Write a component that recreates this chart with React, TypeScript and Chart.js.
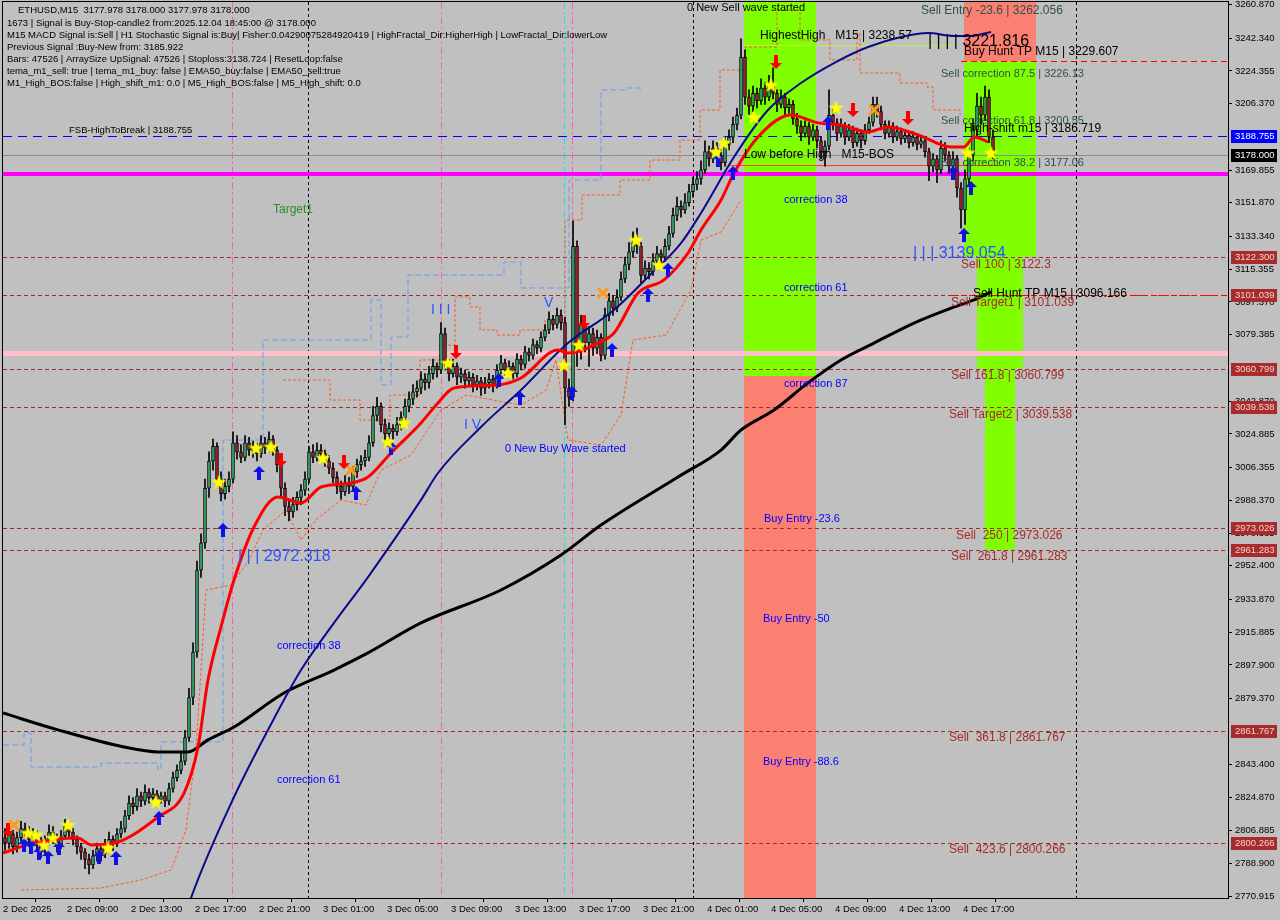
import React, { useEffect, useRef } from "react";
import { Chart, registerables } from "chart.js";
Chart.register(...registerables);

// ---------- axis labels ----------
const xTickLabels = ["2 Dec 2025", "2 Dec 09:00", "2 Dec 13:00", "2 Dec 17:00", "2 Dec 21:00", "3 Dec 01:00", "3 Dec 05:00", "3 Dec 09:00", "3 Dec 13:00", "3 Dec 17:00", "3 Dec 21:00", "4 Dec 01:00", "4 Dec 05:00", "4 Dec 09:00", "4 Dec 13:00", "4 Dec 17:00"];
const yTickValues = [3260.87, 3242.34, 3224.355, 3206.37, 3169.855, 3151.87, 3133.34, 3115.355, 3097.37, 3079.385, 3042.87, 3024.885, 3006.355, 2988.37, 2970.385, 2952.4, 2933.87, 2915.885, 2897.9, 2879.37, 2843.4, 2824.87, 2806.885, 2788.9, 2770.915];

// ---------- candles: open, high, low, close (ETHUSD M15) ----------
const candles: [number, number, number, number][] = [
  [2803, 2808, 2796, 2800], [2800, 2809, 2797, 2805], [2805, 2807, 2794, 2798], [2798, 2806, 2795, 2803], [2803, 2812, 2801, 2808],
  [2808, 2811, 2803, 2806], [2806, 2809, 2798, 2802], [2802, 2808, 2799, 2805], [2805, 2807, 2796, 2800], [2800, 2803, 2792, 2797],
  [2797, 2804, 2794, 2801], [2801, 2810, 2799, 2806], [2806, 2809, 2800, 2803], [2803, 2805, 2795, 2799], [2799, 2807, 2797, 2804],
  [2804, 2813, 2802, 2809], [2809, 2811, 2803, 2806], [2806, 2808, 2799, 2802], [2802, 2804, 2794, 2798], [2798, 2800, 2791, 2795],
  [2795, 2797, 2786, 2791], [2791, 2794, 2783, 2788], [2788, 2796, 2786, 2793], [2793, 2800, 2790, 2797], [2797, 2799, 2790, 2794],
  [2794, 2802, 2792, 2799], [2799, 2806, 2796, 2802], [2802, 2804, 2796, 2800], [2800, 2808, 2798, 2805], [2805, 2812, 2803, 2808],
  [2808, 2818, 2806, 2815], [2815, 2826, 2813, 2822], [2822, 2825, 2816, 2820], [2820, 2830, 2818, 2826], [2826, 2828, 2820, 2823],
  [2823, 2832, 2821, 2828], [2828, 2830, 2822, 2825], [2825, 2830, 2823, 2827], [2827, 2829, 2821, 2824], [2824, 2828, 2822, 2826],
  [2826, 2828, 2820, 2823], [2823, 2833, 2821, 2830], [2830, 2839, 2828, 2836], [2836, 2843, 2834, 2840], [2840, 2850, 2838, 2845],
  [2845, 2862, 2843, 2858], [2858, 2885, 2856, 2880], [2880, 2910, 2876, 2905], [2905, 2955, 2902, 2950], [2950, 2970, 2946, 2965],
  [2965, 3000, 2962, 2995], [2995, 3015, 2990, 3010], [3010, 3022, 3005, 3018], [3018, 3020, 2996, 3000], [3000, 3004, 2988, 2992],
  [2992, 3000, 2989, 2996], [2996, 3004, 2993, 3000], [3000, 3026, 2998, 3020], [3020, 3024, 3011, 3015], [3015, 3019, 3009, 3012],
  [3012, 3024, 3010, 3020], [3020, 3023, 3013, 3016], [3016, 3021, 3012, 3018], [3018, 3020, 3010, 3014], [3014, 3024, 3012, 3020],
  [3020, 3023, 3014, 3017], [3017, 3026, 3015, 3022], [3022, 3024, 3013, 3016], [3016, 3018, 3004, 3008], [3008, 3010, 2990, 2995],
  [2995, 2998, 2980, 2985], [2985, 2988, 2977, 2982], [2982, 2990, 2979, 2986], [2986, 2993, 2983, 2990], [2990, 2997, 2986, 2994],
  [2994, 3004, 2991, 3000], [3000, 3018, 2998, 3015], [3015, 3019, 3009, 3012], [3012, 3020, 3010, 3016], [3016, 3019, 3011, 3014],
  [3014, 3016, 3007, 3010], [3010, 3013, 3003, 3006], [3006, 3009, 2998, 3001], [3001, 3004, 2992, 2996], [2996, 2999, 2989, 2993],
  [2993, 3002, 2991, 2998], [2998, 3001, 2992, 2996], [2996, 3007, 2994, 3004], [3004, 3011, 3001, 3008], [3008, 3013, 3005, 3010],
  [3010, 3016, 3007, 3012], [3012, 3024, 3010, 3020], [3020, 3040, 3018, 3035], [3035, 3045, 3032, 3040], [3040, 3042, 3026, 3030],
  [3030, 3033, 3021, 3025], [3025, 3031, 3022, 3028], [3028, 3030, 3022, 3026], [3026, 3034, 3024, 3030], [3030, 3037, 3027, 3034],
  [3034, 3044, 3032, 3040], [3040, 3048, 3037, 3044], [3044, 3052, 3041, 3048], [3048, 3054, 3045, 3050], [3050, 3059, 3047, 3055],
  [3055, 3058, 3049, 3053], [3053, 3062, 3050, 3058], [3058, 3066, 3055, 3062], [3062, 3064, 3056, 3060], [3060, 3086, 3058, 3080],
  [3080, 3083, 3060, 3064], [3064, 3066, 3054, 3058], [3058, 3066, 3056, 3062], [3062, 3064, 3052, 3056], [3056, 3061, 3053, 3058],
  [3058, 3060, 3050, 3054], [3054, 3059, 3051, 3056], [3056, 3058, 3048, 3052], [3052, 3057, 3049, 3054], [3054, 3056, 3046, 3050],
  [3050, 3056, 3047, 3053], [3053, 3058, 3050, 3055], [3055, 3057, 3048, 3052], [3052, 3063, 3050, 3060], [3060, 3068, 3058, 3064],
  [3064, 3066, 3057, 3060], [3060, 3065, 3057, 3062], [3062, 3064, 3055, 3058], [3058, 3069, 3056, 3066], [3066, 3068, 3060, 3063],
  [3063, 3073, 3061, 3070], [3070, 3072, 3065, 3068], [3068, 3077, 3066, 3074], [3074, 3076, 3069, 3072], [3072, 3081, 3070, 3078],
  [3078, 3085, 3076, 3082], [3082, 3092, 3080, 3088], [3088, 3090, 3082, 3085], [3085, 3094, 3083, 3090], [3090, 3093, 3082, 3086],
  [3086, 3089, 3030, 3050], [3050, 3055, 3040, 3045], [3045, 3142, 3043, 3128], [3128, 3131, 3062, 3070], [3070, 3090, 3066, 3085],
  [3085, 3088, 3070, 3075], [3075, 3084, 3062, 3080], [3080, 3083, 3068, 3072], [3072, 3082, 3069, 3078], [3078, 3080, 3065, 3068],
  [3068, 3094, 3066, 3090], [3090, 3102, 3087, 3098], [3098, 3101, 3090, 3094], [3094, 3104, 3092, 3100], [3100, 3114, 3098, 3110],
  [3110, 3122, 3108, 3118], [3118, 3130, 3115, 3125], [3125, 3136, 3122, 3130], [3130, 3138, 3124, 3128], [3128, 3130, 3108, 3112],
  [3112, 3120, 3110, 3116], [3116, 3119, 3110, 3114], [3114, 3124, 3112, 3120], [3120, 3128, 3118, 3124], [3124, 3126, 3118, 3122],
  [3122, 3132, 3120, 3128], [3128, 3139, 3126, 3135], [3135, 3149, 3133, 3145], [3145, 3155, 3142, 3150], [3150, 3153, 3144, 3148],
  [3148, 3157, 3146, 3152], [3152, 3162, 3150, 3158], [3158, 3166, 3155, 3162], [3162, 3169, 3159, 3165], [3165, 3175, 3162, 3170],
  [3170, 3186, 3168, 3180], [3180, 3183, 3172, 3176], [3176, 3186, 3174, 3182], [3182, 3185, 3175, 3178], [3178, 3181, 3170, 3174],
  [3174, 3188, 3172, 3184], [3184, 3192, 3181, 3188], [3188, 3199, 3185, 3195], [3195, 3204, 3192, 3200], [3200, 3242, 3198, 3232],
  [3232, 3236, 3206, 3210], [3210, 3214, 3200, 3205], [3205, 3216, 3202, 3212], [3212, 3215, 3204, 3208], [3208, 3220, 3206, 3215],
  [3215, 3218, 3206, 3210], [3210, 3222, 3208, 3216], [3216, 3226, 3209, 3212], [3212, 3214, 3202, 3206], [3206, 3214, 3204, 3210],
  [3210, 3212, 3200, 3204], [3204, 3209, 3201, 3206], [3206, 3208, 3195, 3198], [3198, 3201, 3190, 3194], [3194, 3197, 3186, 3190],
  [3190, 3197, 3188, 3194], [3194, 3196, 3184, 3188], [3188, 3195, 3186, 3192], [3192, 3194, 3182, 3186], [3186, 3188, 3176, 3180],
  [3180, 3186, 3172, 3183], [3183, 3214, 3181, 3200], [3200, 3204, 3192, 3196], [3196, 3198, 3186, 3190], [3190, 3198, 3188, 3194],
  [3194, 3196, 3184, 3188], [3188, 3195, 3186, 3192], [3192, 3194, 3182, 3185], [3185, 3193, 3183, 3190], [3190, 3192, 3182, 3186],
  [3186, 3195, 3184, 3192], [3192, 3199, 3190, 3196], [3196, 3210, 3194, 3206], [3206, 3210, 3199, 3202], [3202, 3205, 3192, 3195],
  [3195, 3197, 3187, 3190], [3190, 3197, 3188, 3194], [3194, 3196, 3185, 3188], [3188, 3194, 3186, 3191], [3191, 3193, 3184, 3187],
  [3187, 3192, 3185, 3189], [3189, 3191, 3182, 3185], [3185, 3191, 3183, 3188], [3188, 3190, 3181, 3184], [3184, 3189, 3182, 3186],
  [3186, 3188, 3177, 3180], [3180, 3182, 3164, 3172], [3172, 3179, 3169, 3176], [3176, 3178, 3163, 3170], [3170, 3186, 3168, 3182],
  [3182, 3185, 3175, 3178], [3178, 3180, 3168, 3172], [3172, 3180, 3170, 3176], [3176, 3178, 3155, 3160], [3160, 3163, 3138, 3148],
  [3148, 3170, 3140, 3165], [3165, 3182, 3162, 3178], [3178, 3198, 3175, 3192], [3192, 3212, 3188, 3205], [3205, 3210, 3195, 3200],
  [3200, 3216, 3197, 3210], [3210, 3214, 3185, 3188], [3188, 3192, 3176, 3178],
];

// ---------- indicator lines: [bar index, price] ----------
const emaRed: [number, number][] = [
  [-0.5, 2794.5], [7.25, 2800.1], [18.25, 2802.8], [21.5, 2799.0], [28.25, 2800.6], [38.25, 2814.3], [44.75, 2827.5], [48.25, 2852.8],
  [50.75, 2889.6], [54, 2918.8], [57.25, 2944.6], [62.25, 2973.7], [68.25, 2990.2], [74, 2986.9], [79, 2995.7], [86.5, 2997.9],
  [90.75, 3001.2], [96.5, 3014.4], [104, 3030.9], [108.25, 3041.9], [112.25, 3050.1], [123.25, 3051.8], [129, 3055.6], [138.25, 3071.0],
  [140.75, 3069.3], [148.25, 3074.8], [152.25, 3080.3], [158.25, 3102.3], [164.75, 3109.5], [170.75, 3124.3], [174, 3136.9], [179, 3153.4],
  [182.25, 3168.3], [188.25, 3188.1], [196.5, 3200.2], [203.25, 3195.8], [209, 3194.7], [215.75, 3190.8], [220.75, 3193.6], [228.25, 3189.2],
  [236.5, 3182.6], [239.75, 3182.6], [242.25, 3188.1], [245.75, 3185.3],
];
const emaNavy: [number, number][] = [
  [44, 2752.2], [46.5, 2769.8], [57.25, 2825.3], [65.75, 2862.2], [74, 2895.1], [82.25, 2921.0], [90.75, 2946.2], [104, 2988.6],
  [108.25, 3003.4], [119, 3028.7], [129, 3049.0], [140.75, 3074.8], [152.25, 3093.0], [160.75, 3111.1], [169, 3129.7], [174, 3146.3],
  [182.25, 3177.1], [190.75, 3202.9], [199, 3217.7], [207.25, 3228.7], [215.75, 3237.5], [224, 3243.0], [230.75, 3245.2], [237.25, 3243.6],
  [241.5, 3243.6], [246.5, 3245.8],
];
const emaBlack: [number, number][] = [
  [-0.5, 2871.5], [13.25, 2862.2], [29.75, 2852.8], [38.25, 2850.1], [45.75, 2850.1], [50.75, 2856.7], [57.25, 2863.8], [69.75, 2882.5],
  [82.25, 2895.1], [90.75, 2904.5], [104, 2921.0], [124, 2939.1], [139, 2958.3], [149, 2974.8], [168.25, 3001.2], [179, 3016.0],
  [184, 3027.0], [192.25, 3038.0], [200.75, 3052.9], [209, 3065.5], [217.25, 3074.8], [227.25, 3085.8], [237.25, 3094.6], [242.25, 3098.5],
  [246.5, 3102.9],
];
const bandOrange: [number, number][] = [
  [4, 2774.2], [24, 2775.3], [34, 2779.7], [41.5, 2785.2], [45.25, 2807.2], [47.75, 2851.1], [50.25, 2939.1], [56.5, 2941.8],
  [61, 2955.5], [64.5, 2972.1], [70.25, 2983.0], [74, 2966.6], [77.75, 2977.6], [84, 2988.5], [90.25, 2985.8], [94, 3005.0],
  [101.5, 3013.3], [109, 3038.0], [115.25, 3046.2], [129, 3040.7], [135.25, 3049.0], [137.75, 3065.5], [140.75, 3021.5], [149, 3018.8],
  [154, 3035.3], [157, 3076.5], [165.25, 3079.2], [171.5, 3104.0], [174, 3131.4], [179, 3135.8], [184, 3153.4],
];
const bandOrangeUpper: [number, number][] = [
  [69.5, 3054.5], [73.75, 3054.5], [81.25, 3043.5], [88.75, 3032.5], [96.25, 3046.2], [103.75, 3065.5], [108.75, 3073.7], [112.5, 3100.1],
  [116.25, 3094.6], [118.75, 3082.0], [123, 3079.2], [128.75, 3082.0], [135, 3087.5], [140, 3142.4], [144.25, 3156.2], [150.75, 3156.2],
  [153.75, 3164.4], [161.25, 3175.4], [168.75, 3186.4], [173.75, 3202.9], [178.75, 3224.9], [185, 3237.5], [193, 3257.8], [198.75, 3241.4],
  [206.25, 3230.4], [213, 3245.2], [213.75, 3223.2], [223.75, 3217.7], [230.5, 3215.5], [232, 3202.9], [238.75, 3200.1],
];
const bandBlue: [number, number][] = [
  [-0.5, 2853.9], [4.75, 2860.5], [6.5, 2841.8], [24, 2844.0], [38.25, 2840.2], [39, 2855.6], [54, 2855.6], [54.5, 3021.5],
  [64.5, 3076.5], [84, 3076.5], [91.5, 3098.5], [94, 3051.8], [96.5, 3078.1], [100.75, 3078.1], [100.75, 3112.2], [112, 3112.2],
  [124.75, 3119.3], [128.25, 3119.3], [129, 3105.1], [139.75, 3105.1], [141, 3164.4], [149, 3213.9], [155.25, 3215.0], [159, 3212.8],
];

// ---------- signal markers: [bar index, price] ----------
const stars: [number, number][] = [
  [5.75, 2805.5], [7.75, 2804.4], [9.75, 2798.9], [12, 2802.8], [15.75, 2809.9], [25.75, 2797.3], [37.75, 2822.6], [53.5, 2998.4],
  [62.75, 3017.1], [66.5, 3017.7], [79.5, 3011.6], [95.75, 3020.4], [99.75, 3030.9], [110.75, 3063.8], [125.75, 3058.3], [139.75, 3062.7],
  [143.5, 3073.7], [157.75, 3131.4], [163.5, 3117.7], [177.75, 3179.8], [179.75, 3184.8], [187.25, 3199.0], [191.5, 3216.6], [207.75, 3204.0],
  [240.75, 3179.3], [246.5, 3179.3],
];
const upArrows: [number, number][] = [
  [4.75, 2798.9], [6.5, 2797.8], [8.5, 2794.5], [10.75, 2792.3], [13.5, 2797.3], [23.5, 2792.3], [27.75, 2791.8], [38.5, 2813.8],
  [54.5, 2972.1], [63.5, 3003.4], [87.75, 2992.4], [96.5, 3017.1], [123.5, 3054.5], [128.75, 3044.6], [141.75, 3047.4], [151.75, 3071.0],
  [160.75, 3101.2], [165.75, 3115.0], [178.25, 3175.4], [182, 3168.3], [205.75, 3195.7], [237, 3168.3], [241.5, 3160.0], [239.75, 3134.2],
];
const downArrows: [number, number][] = [
  [0.75, 2807.2], [69, 3010.5], [84.75, 3009.4], [112.75, 3069.9], [144.75, 3086.4], [192.75, 3229.3], [212, 3202.9], [225.75, 3198.5],
];
const crosses: [number, number][] = [[2.25, 2809.9], [86.5, 3005.0], [149.5, 3102.3], [217.25, 3202.9]];

// ---------- horizontal levels ----------
const sellLevels = [3122.3, 3101.039, 3060.799, 3039.538, 2973.026, 2961.283, 2861.767, 2800.266];
const fsbLevel = 3188.755;
const lastPrice = 3178.0;
const magentaLevel = 3167.9;
const pinkLevel = 3069.1;
const buyHuntTp = 3229.607;
const sellTarget1 = 3101.039;
const highestHigh = 3238.6;
const lowBeforeHigh = 3172.66;
const highestHighSpan = [184.75, 237.25];
const lowBeforeHighSpan = [180.75, 249];
const buyHuntTpStart = 239;
const sellTarget1Start = 236.5;

// ---------- vertical markers (bar index) ----------
const dottedBars = [75.75, 172, 267.75];
const pinkBars = [56.75, 109, 141.75];
const cyanBars = [139.75];

// ---------- zones: [barFrom, barTo, priceHigh, priceLow, kind] ----------
const zones: [number, number, number, number, string][] = [
  [184.75, 202.75, 3262.3, 3056.7, "buy"],
  [184.75, 202.75, 3056.7, 2769.8, "sell"],
  [239.75, 257.75, 3262.3, 3229.607, "sell"],
  [239.75, 257.75, 3229.607, 3122.3, "buy"],
  [243, 254.5, 3122.3, 3060.799, "buy"],
  [245, 252.5, 3060.799, 2961.283, "buy"],
];

// ---------- chart texts: [text, bar index, price, kind] ----------
const chartTexts: [string, number, number, string][] = [
  ["FSB-HighToBreak | 3188.755", 16, 3191.9, "small"],
  ["Target1", 67, 3147.9, "green"],
  ["| | | 2972.318", 58.25, 2957.2, "wave"],
  ["correction 38", 68, 2908.3, "blue"],
  ["correction 61", 68, 2834.7, "blue"],
  ["I I I", 106.5, 3093.0, "waveS"],
  ["V", 134.75, 3096.8, "waveS"],
  ["I V", 114.75, 3029.8, "waveS"],
  ["0 New Buy Wave started", 125, 3016.6, "blue"],
  ["0 New Sell wave started", 170.5, 3259.0, "blackS"],
  ["HighestHigh   M15 | 3238.57", 188.75, 3243.6, "black"],
  ["| | | | 3221.816", 230.75, 3240.3, "waveK"],
  ["Buy Hunt TP M15 | 3229.607", 239.75, 3234.8, "black"],
  ["Sell Entry -23.6 | 3262.056", 229, 3257.3, "slate"],
  ["Sell correction 87.5 | 3226.13", 234, 3222.7, "slateS"],
  ["Sell correction 61.8 | 3200.55", 234, 3196.8, "slateS"],
  ["Sell correction 38.2 | 3177.06", 234, 3173.8, "slateS"],
  ["High-shift m15 | 3186.719", 239.75, 3192.5, "black"],
  ["Low before High   M15-BOS", 184.75, 3178.2, "black"],
  ["correction 38", 194.75, 3153.4, "blue"],
  ["correction 61", 194.75, 3105.1, "blue"],
  ["correction 87", 194.75, 3052.3, "blue"],
  ["| | | 3139.054", 227, 3123.8, "wave"],
  ["Sell 100 | 3122.3", 239, 3117.7, "sell"],
  ["Sell Hunt TP M15 | 3096.166", 242, 3101.8, "black"],
  ["Sell Target1 | 3101.039", 236.5, 3096.8, "sell"],
  ["Sell 161.8 | 3060.799", 236.5, 3056.7, "sell"],
  ["Sell Target2 | 3039.538", 236, 3035.3, "sell"],
  ["Buy Entry -23.6", 189.75, 2978.1, "blue"],
  ["Buy Entry -50", 189.5, 2923.1, "blue"],
  ["Buy Entry -88.6", 189.5, 2844.6, "blue"],
  ["Sell  250 | 2973.026", 237.75, 2968.8, "sell"],
  ["Sell  261.8 | 2961.283", 236.5, 2957.2, "sell"],
  ["Sell  361.8 | 2861.767", 236, 2857.8, "sell"],
  ["Sell  423.6 | 2800.266", 236, 2796.2, "sell"],
];

const infoLines = [
  "ETHUSD,M15  3177.978 3178.000 3177.978 3178.000",
  "1673 | Signal is Buy-Stop-candle2 from:2025.12.04 18:45:00 @ 3178.000",
  "M15 MACD Signal is:Sell | H1 Stochastic Signal is:Buy| Fisher:0.04290075284920419 | HighFractal_Dir:HigherHigh | LowFractal_Dir:lowerLow",
  "Previous Signal :Buy-New from: 3185.922",
  "Bars: 47526 | ArraySize UpSignal: 47526 | Stoploss:3138.724 | ResetLoop:false",
  "tema_m1_sell: true | tema_m1_buy: false | EMA50_buy:false | EMA50_sell:true",
  "M1_High_BOS:false | High_shift_m1: 0.0 | M5_High_BOS:false | M5_High_shift: 0.0",
];

// ---------- styles ----------
const FONT = "'Liberation Sans', Arial, sans-serif";
const textStyles: Record<string, { color: string; size: number }> = {
  small: { color: "#000000", size: 9.5 },
  green: { color: "#2e8b2e", size: 12 },
  wave: { color: "#2a52ff", size: 16 },
  waveS: { color: "#2a52ff", size: 14 },
  waveK: { color: "#000000", size: 16 },
  blue: { color: "#0000ff", size: 11 },
  blackS: { color: "#000000", size: 11 },
  black: { color: "#000000", size: 12 },
  slate: { color: "#2f4f4f", size: 12 },
  slateS: { color: "#2f4f4f", size: 11 },
  sell: { color: "#a52a2a", size: 12 },
};
const zoneColors: Record<string, string> = { buy: "#7fff00", sell: "#fa8072" };

function makeStar(size: number, color: string) {
  const c = document.createElement("canvas");
  c.width = size; c.height = size;
  const ctx = c.getContext("2d")!;
  const cx = size / 2, cy = size / 2 + 0.5, R = size / 2 - 0.5, r = R * 0.42;
  ctx.beginPath();
  for (let k = 0; k < 10; k++) {
    const a = -Math.PI / 2 + (k * Math.PI) / 5;
    const rr = k % 2 === 0 ? R : r;
    ctx.lineTo(cx + rr * Math.cos(a), cy + rr * Math.sin(a));
  }
  ctx.closePath();
  ctx.fillStyle = color;
  ctx.fill();
  return c;
}
function makeArrow(up: boolean, color: string) {
  const w = 12, h = 14;
  const c = document.createElement("canvas");
  c.width = w; c.height = h;
  const ctx = c.getContext("2d")!;
  if (!up) { ctx.translate(0, h); ctx.scale(1, -1); }
  ctx.beginPath();
  ctx.moveTo(6, 0); ctx.lineTo(12, 6); ctx.lineTo(8, 6); ctx.lineTo(8, 14); ctx.lineTo(4, 14); ctx.lineTo(4, 6); ctx.lineTo(0, 6);
  ctx.closePath();
  ctx.fillStyle = color;
  ctx.fill();
  return c;
}
function makeCross(color: string) {
  const c = document.createElement("canvas");
  c.width = 12; c.height = 12;
  const ctx = c.getContext("2d")!;
  ctx.strokeStyle = color; ctx.lineWidth = 3;
  ctx.beginPath(); ctx.moveTo(1, 1); ctx.lineTo(11, 11); ctx.moveTo(11, 1); ctx.lineTo(1, 11); ctx.stroke();
  return c;
}

const toXY = (a: [number, number][]) => a.map(([x, y]) => ({ x, y }));
const zeroPad = (s: any) => { s.paddingLeft = 0; s.paddingRight = 0; s.paddingTop = 0; s.paddingBottom = 0; };

export default function App() {
  const ref = useRef<HTMLCanvasElement>(null);
  useEffect(() => {
    document.body.style.margin = "0";
    document.body.style.background = "#c0c0c0";
    const canvas = ref.current!;
    const starImg = makeStar(17, "#ffff00");
    const upImg = makeArrow(true, "#1010e6");
    const downImg = makeArrow(false, "#ff0000");
    const crossImg = makeCross("#ff9a1a");

    const overlay = {
      id: "overlay",
      beforeDraw(chart: any) {
        const ctx = chart.ctx;
        ctx.save();
        ctx.fillStyle = "#c0c0c0";
        ctx.fillRect(0, 0, chart.width, chart.height);
        ctx.restore();
      },
      beforeDatasetsDraw(chart: any) {
        const { ctx, chartArea: ca, scales } = chart;
        const xs = scales.x, ys = scales.y;
        ctx.save();
        ctx.beginPath();
        ctx.rect(ca.left, ca.top, ca.right - ca.left, ca.bottom - ca.top);
        ctx.clip();
        zones.forEach(([x0, x1, p0, p1, k]) => {
          const a = xs.getPixelForValue(x0), b = xs.getPixelForValue(x1);
          const t = ys.getPixelForValue(p0), u = ys.getPixelForValue(p1);
          ctx.fillStyle = zoneColors[k];
          ctx.fillRect(a, t, b - a, u - t);
        });
        const hline = (p: number, color: string, w: number, dash: number[], x0?: number, x1?: number) => {
          const y = Math.round(ys.getPixelForValue(p)) + (w % 2 ? 0.5 : 0);
          ctx.beginPath();
          ctx.strokeStyle = color; ctx.lineWidth = w; ctx.setLineDash(dash);
          ctx.moveTo(x0 === undefined ? ca.left : xs.getPixelForValue(x0), y);
          ctx.lineTo(x1 === undefined ? ca.right : xs.getPixelForValue(x1), y);
          ctx.stroke();
        };
        const vline = (v: number, color: string, dash: number[]) => {
          const x = Math.round(xs.getPixelForValue(v)) + 0.5;
          ctx.beginPath();
          ctx.strokeStyle = color; ctx.lineWidth = 1; ctx.setLineDash(dash);
          ctx.moveTo(x, ca.top); ctx.lineTo(x, ca.bottom);
          ctx.stroke();
        };
        dottedBars.forEach((v) => vline(v, "#000000", [3, 3]));
        pinkBars.forEach((v) => vline(v, "#ff5fa8", [7, 3, 2, 3]));
        cyanBars.forEach((v) => vline(v, "#20e0e0", [7, 3, 2, 3]));
        sellLevels.forEach((p) => hline(p, "#a52a2a", 1, [4, 3]));
        hline(pinkLevel, "#ffc0cb", 5, []);
        hline(magentaLevel, "#ff00ff", 4, []);
        hline(lastPrice, "#8c8c8c", 1, []);
        hline(fsbLevel, "#0000ff", 1, [9, 6]);
        hline(buyHuntTp, "#ff0000", 1, [6, 4], buyHuntTpStart);
        hline(sellTarget1, "#ff0000", 1, [6, 4], sellTarget1Start);
        hline(highestHigh, "#b8f040", 1, [], highestHighSpan[0], highestHighSpan[1]);
        hline(lowBeforeHigh, "#ff4500", 1, [], lowBeforeHighSpan[0], lowBeforeHighSpan[1]);
        ctx.restore();
      },
      afterDatasetsDraw(chart: any) {
        const { ctx, chartArea: ca, scales } = chart;
        const xs = scales.x, ys = scales.y;
        ctx.save();
        ctx.beginPath();
        ctx.rect(ca.left, ca.top, ca.right - ca.left, ca.bottom - ca.top);
        ctx.clip();
        ctx.textAlign = "left";
        ctx.textBaseline = "middle";
        chartTexts.forEach(([t, v, p, k]) => {
          const s = textStyles[k];
          ctx.font = `${s.size}px ${FONT}`;
          ctx.fillStyle = s.color;
          ctx.fillText(t, xs.getPixelForValue(v), ys.getPixelForValue(p));
        });
        ctx.restore();
      },
      afterDraw(chart: any) {
        const { ctx, chartArea: ca, scales } = chart;
        const ys = scales.y;
        ctx.save();
        ctx.strokeStyle = "#000";
        ctx.lineWidth = 1;
        ctx.setLineDash([]);
        ctx.strokeRect(ca.left - 0.5, ca.top - 0.5, ca.right - ca.left + 1, ca.bottom - ca.top + 1);
        const box = (p: number, bg: string, fg: string) => {
          const y = Math.round(ys.getPixelForValue(p));
          ctx.fillStyle = bg;
          ctx.fillRect(ca.right + 3, y - 6, 46, 13);
          ctx.fillStyle = fg;
          ctx.font = `9.5px ${FONT}`;
          ctx.textAlign = "left";
          ctx.textBaseline = "middle";
          ctx.fillText(p.toFixed(3), ca.right + 7, y + 0.5);
        };
        sellLevels.forEach((p) => box(p, "#a82c2c", "#f4d2d2"));
        box(fsbLevel, "#0000ff", "#ffffff");
        box(lastPrice, "#000000", "#ffffff");
        ctx.fillStyle = "#000";
        ctx.font = `9.5px ${FONT}`;
        ctx.textAlign = "left";
        ctx.textBaseline = "middle";
        const ys0 = [10, 23, 35, 47, 59, 71, 83];
        infoLines.forEach((t, i) => ctx.fillText(t, i === 0 ? 18 : 7, ys0[i]));
        ctx.restore();
      },
    };

    const bull = "#3cb371", bear = "#b22234";
    const chart = new Chart(canvas, {
      type: "bar",
      data: {
        datasets: [
          { type: "scatter", data: toXY(stars), pointStyle: starImg as any, order: 1 } as any,
          { type: "scatter", data: toXY(upArrows), pointStyle: upImg as any, order: 1 } as any,
          { type: "scatter", data: toXY(downArrows), pointStyle: downImg as any, order: 1 } as any,
          { type: "scatter", data: toXY(crosses), pointStyle: crossImg as any, order: 1 } as any,
          {
            type: "line", data: toXY(emaRed), borderColor: "#ff0000", borderWidth: 3, pointRadius: 0,
            cubicInterpolationMode: "monotone", order: 3,
          } as any,
          {
            type: "line", data: toXY(emaNavy), borderColor: "#0a0a8a", borderWidth: 2, pointRadius: 0,
            cubicInterpolationMode: "monotone", order: 4,
          } as any,
          {
            type: "bar", data: candles.map((c, i) => ({ x: i, y: [c[0], c[3]] })),
            backgroundColor: candles.map((c) => (c[3] >= c[0] ? bull : bear)),
            borderColor: "#000000", borderWidth: 1, borderSkipped: false, barThickness: 3, grouped: false, order: 6,
          } as any,
          {
            type: "bar", data: candles.map((c, i) => ({ x: i, y: [c[2], c[1]] })),
            backgroundColor: "#000000", barThickness: 1, grouped: false, order: 7,
          } as any,
          {
            type: "line", data: toXY(emaBlack), borderColor: "#000000", borderWidth: 3, pointRadius: 0,
            cubicInterpolationMode: "monotone", order: 5,
          } as any,
          {
            type: "line", data: toXY(bandOrange), borderColor: "#ff5a1e", borderWidth: 1, borderDash: [3, 2], pointRadius: 0, order: 9,
          } as any,
          {
            type: "line", data: toXY(bandOrangeUpper), borderColor: "#ff5a1e", borderWidth: 1, borderDash: [3, 2], pointRadius: 0, stepped: true, order: 9,
          } as any,
          {
            type: "line", data: toXY(bandBlue), borderColor: "#6a9cf0", borderWidth: 1, borderDash: [6, 3], pointRadius: 0, stepped: true, order: 9,
          } as any,
        ],
      },
      options: {
        responsive: false,
        animation: false,
        events: [],
        devicePixelRatio: 1,
        layout: { autoPadding: false, padding: { left: 3, top: 2, right: 0, bottom: 0 } },
        plugins: { legend: { display: false }, tooltip: { enabled: false } },
        scales: {
          x: {
            type: "linear", min: -0.5, max: 305.75, offset: false, position: "bottom",
            afterBuildTicks: (s: any) => { s.ticks = xTickLabels.map((_, k) => ({ value: k * 16 - 0.5 })); },
            afterFit: (s: any) => { s.height = 22; zeroPad(s); },
            ticks: {
              autoSkip: false, maxRotation: 0, minRotation: 0, align: "start", padding: 2,
              color: "#000", font: { family: FONT, size: 9.5 },
              callback: (_v: any, i: number) => xTickLabels[i],
            },
            grid: { display: true, drawOnChartArea: false, drawTicks: true, tickLength: 4, color: "#000" },
            border: { display: true, color: "#000" },
          },
          y: {
            type: "linear", position: "right", min: 2769.816, max: 3262.244,
            afterBuildTicks: (s: any) => { s.ticks = yTickValues.map((v) => ({ value: v })); },
            afterFit: (s: any) => { s.width = 52; zeroPad(s); },
            ticks: {
              padding: 3, color: "#000", font: { family: FONT, size: 9.5 },
              callback: (v: any) => Number(v).toFixed(3),
            },
            grid: { display: true, drawOnChartArea: false, drawTicks: true, tickLength: 4, color: "#000" },
            border: { display: true, color: "#000" },
          },
        },
      } as any,
      plugins: [overlay],
    } as any);
    return () => chart.destroy();
  }, []);
  return <canvas ref={ref} width={1280} height={920} style={{ display: "block", width: 1280, height: 920 }} />;
}
